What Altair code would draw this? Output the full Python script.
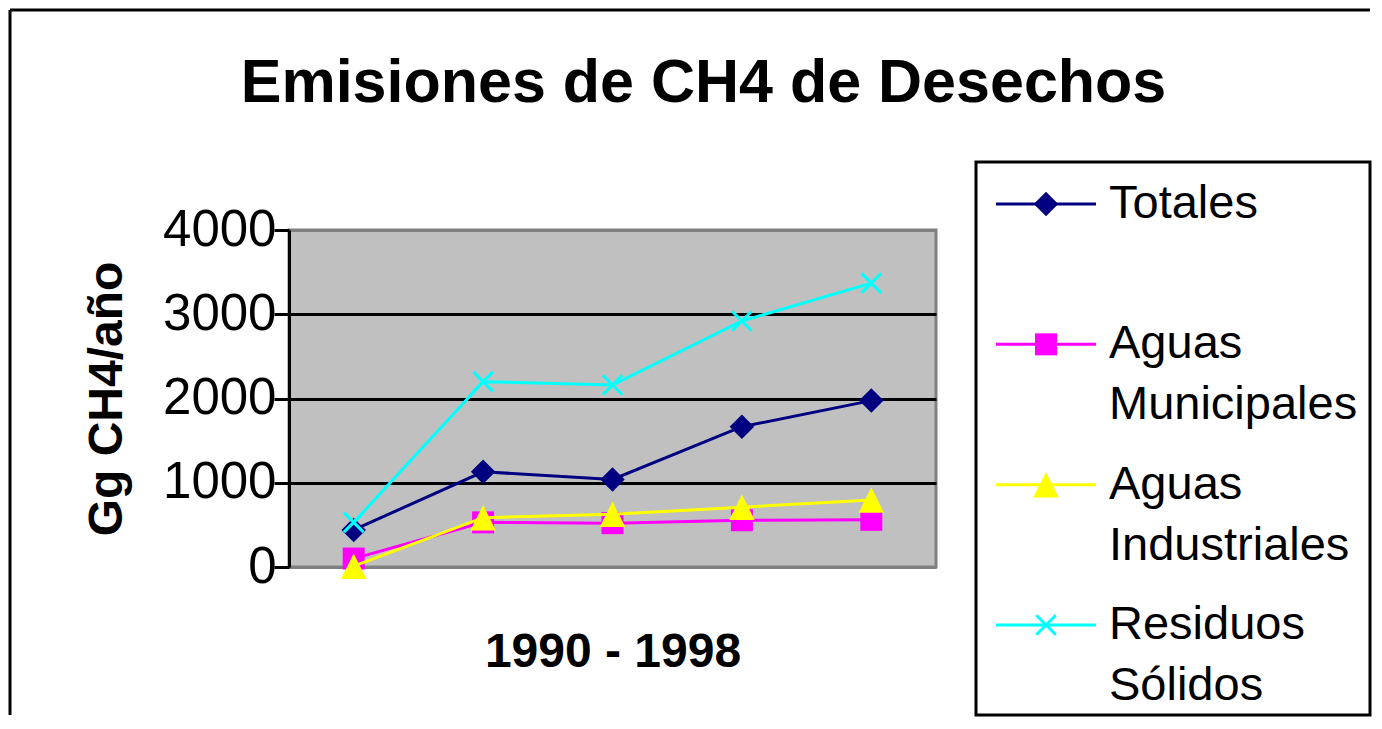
import altair as alt
import pandas as pd

# ---------------- data ----------------
years = ["1990", "1992", "1994", "1996", "1998"]
series_names = ["Totales", "Aguas Municipales", "Aguas Industriales", "Residuos Sólidos"]
totales = [440, 1130, 1040, 1665, 1975]
municipales = [100, 530, 520, 555, 560]
industriales = [10, 585, 625, 710, 795]
residuos = [530, 2200, 2160, 2920, 3370]
legend_labels = ["Totales", "Aguas\nMunicipales", "Aguas\nIndustriales", "Residuos\nSólidos"]
legend_rows = [0, 1, 2, 3]
y_ticks = [0, 1000, 2000, 3000, 4000]

title_text = "Emisiones de CH4 de Desechos"
x_title = "1990 - 1998"
y_title = "Gg CH4/año"

# ---------------- styles ----------------
FONT = "Liberation Sans"
colors = ["#000080", "#FF00FF", "#FFFF00", "#00FFFF"]
X_PATH = "M-1,-1L1,1M-1,1L1,-1"
TRI_PATH = "M0,-1L1,1L-1,1Z"
marker_styles = [
    dict(shape="diamond", size=600, filled=True, opacity=1),
    dict(shape="square", size=484, filled=True, opacity=1),
    dict(shape=TRI_PATH, size=650, filled=True, opacity=1),
    dict(shape=X_PATH, size=380, filled=False, strokeWidth=3, opacity=1),
]

values_by_series = [totales, municipales, industriales, residuos]
df = pd.DataFrame(
    [
        {"year": y, "series": s, "value": v}
        for s, vals in zip(series_names, values_by_series)
        for y, v in zip(years, vals)
    ]
)
legend_df = pd.DataFrame({"series": series_names, "label": legend_labels, "row": legend_rows})

color_scale = alt.Scale(domain=series_names, range=colors)
color_enc = alt.Color("series:N", scale=color_scale, legend=None)

x_enc = alt.X(
    "year:O",
    sort=years,
    scale=alt.Scale(type="point", padding=0.5),
    axis=alt.Axis(
        title=x_title, labels=False, ticks=False, domain=False,
        titleFont=FONT, titleFontSize=48, titleFontWeight="bold", titleColor="black",
        titlePadding=61,
    ),
)
y_enc = alt.Y(
    "value:Q",
    scale=alt.Scale(domain=[0, 4000], nice=False),
    axis=alt.Axis(
        values=y_ticks, format="d", title=y_title,
        titleFont=FONT, titleFontSize=48, titleFontWeight="bold", titleColor="black",
        titlePadding=31,
        labelFont=FONT, labelFontSize=51, labelColor="black", labelPadding=-2,
        tickSize=15, tickWidth=3, tickColor="black",
        domainColor="black", domainWidth=3,
        gridColor={"condition": {"test": "datum.value == 0 || datum.value == 4000", "value": "#808080"}, "value": "black"},
        gridWidth=3, gridOpacity=1,
    ),
)

main_layers = []
for name, style in zip(series_names, marker_styles):
    base = alt.Chart(df).transform_filter(alt.datum.series == name)
    main_layers.append(base.mark_line(strokeWidth=3).encode(x=x_enc, y=y_enc, color=color_enc))
    main_layers.append(base.mark_point(**style).encode(x=x_enc, y=y_enc, color=color_enc))
main = alt.layer(*main_layers)

# ---------------- frame & legend ----------------
one = alt.Data(values=[{"k": 1}])
frame_top = alt.Chart(one).mark_rule(color="black", strokeWidth=3).encode(
    x=alt.value(-279), x2=alt.value(1081), y=alt.value(-220)
)
frame_left = alt.Chart(one).mark_rule(color="black", strokeWidth=3).encode(
    x=alt.value(-279), y=alt.value(-220), y2=alt.value(485)
)
legend_box = alt.Chart(one).mark_rect(fill="white", stroke="black", strokeWidth=3).encode(
    x=alt.value(687), x2=alt.value(1081), y=alt.value(-68), y2=alt.value(485)
)
leg_y = alt.Y("row:Q", scale=alt.Scale(domain=[0, 3], range=[-26, 395], nice=False, zero=False), axis=None)
legend_rules = alt.Chart(legend_df).mark_rule(strokeWidth=3).encode(
    x=alt.value(707), x2=alt.value(807), y=leg_y, color=color_enc
)
legend_points = [
    alt.Chart(legend_df).transform_filter(alt.datum.series == name).mark_point(**style).encode(
        x=alt.value(757), y=leg_y, color=color_enc
    )
    for name, style in zip(series_names, marker_styles)
]
legend_text = alt.Chart(legend_df).mark_text(
    align="left", baseline="alphabetic", dy=14, font=FONT, fontSize=47,
    lineBreak="\n", lineHeight=61, color="black",
).encode(x=alt.value(820), y=leg_y, text="label:N")

legend = alt.layer(frame_top, frame_left, legend_box, legend_rules, *legend_points, legend_text)

chart = (
    alt.layer(main, legend)
    .resolve_scale(y="independent")
    .properties(
        width=647,
        height=337,
        background="white",
        padding={"left": 0, "top": 0, "right": 0, "bottom": 0},
        title=alt.TitleParams(
            text=title_text, font=FONT, fontSize=61, fontWeight="bold", color="black",
            anchor="middle", frame="group", dx=91, offset=-106,
        ),
    )
    .configure_view(fill="#C0C0C0", stroke="#808080", strokeWidth=3)
)

chart.save("out.html", embed_options={"renderer": "svg", "actions": False})
